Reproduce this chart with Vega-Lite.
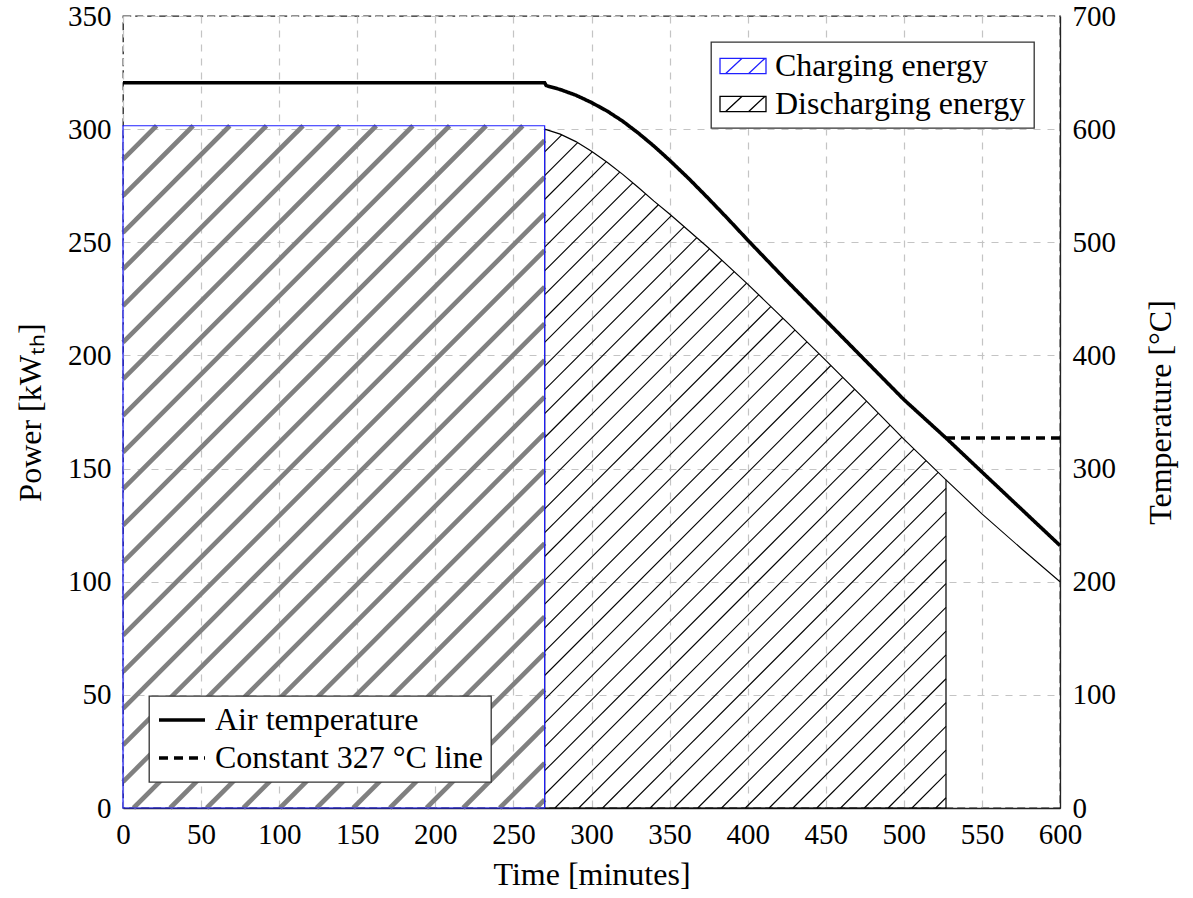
{
  "$schema": "https://vega.github.io/schema/vega-lite/v6.json",
  "width": 937,
  "height": 792,
  "autosize": {"type": "none"},
  "padding": {"left": 123, "top": 16, "right": 133, "bottom": 90},
  "background": "white",
  "config": {
    "font": "Liberation Serif",
    "view": {"stroke": "#222222", "strokeWidth": 1.3, "strokeDash": [8, 4]},
    "axis": {
      "labelFont": "Liberation Serif",
      "titleFont": "Liberation Serif",
      "labelFontSize": 29,
      "titleFontSize": 32,
      "titleFontWeight": "normal",
      "labelColor": "black",
      "titleColor": "black",
      "ticks": false,
      "gridColor": "#c4c4c4",
      "gridDash": [7, 7],
      "gridWidth": 1.2,
      "domainColor": "#222222",
      "domainWidth": 1.3,
      "labelFlush": false,
      "labelOverlap": false,
      "labelBound": false
    },
    "legend": {
      "labelFont": "Liberation Serif",
      "labelFontSize": 32,
      "labelColor": "black",
      "labelLimit": 500,
      "fillColor": "white",
      "strokeColor": "#333333",
      "strokeWidth": 1.3,
      "cornerRadius": 0,
      "padding": 8,
      "labelOffset": 8,
      "rowPadding": 6,
      "clipHeight": 32
    }
  },
  "datasets": {
    "hatchCharge": [
      {"t": 0, "P": 286.68, "t2": 21.5, "P2": 301.5},
      {"t": 0, "P": 270.5, "t2": 44.95, "P2": 301.5},
      {"t": 0, "P": 254.32, "t2": 68.4, "P2": 301.5},
      {"t": 0, "P": 238.13, "t2": 91.85, "P2": 301.5},
      {"t": 0, "P": 221.95, "t2": 115.3, "P2": 301.5},
      {"t": 0, "P": 205.76, "t2": 138.75, "P2": 301.5},
      {"t": 0, "P": 189.58, "t2": 162.2, "P2": 301.5},
      {"t": 0, "P": 173.4, "t2": 185.65, "P2": 301.5},
      {"t": 0, "P": 157.21, "t2": 209.1, "P2": 301.5},
      {"t": 0, "P": 141.03, "t2": 232.55, "P2": 301.5},
      {"t": 0, "P": 124.85, "t2": 256.0, "P2": 301.5},
      {"t": 0, "P": 108.66, "t2": 270, "P2": 295.0},
      {"t": 0, "P": 92.48, "t2": 270, "P2": 278.82},
      {"t": 0, "P": 76.3, "t2": 270, "P2": 262.63},
      {"t": 0, "P": 60.11, "t2": 270, "P2": 246.45},
      {"t": 0, "P": 43.93, "t2": 270, "P2": 230.27},
      {"t": 0, "P": 27.74, "t2": 270, "P2": 214.08},
      {"t": 0, "P": 11.56, "t2": 270, "P2": 197.9},
      {"t": 6.7, "P": 0, "t2": 270, "P2": 181.71},
      {"t": 30.15, "P": 0, "t2": 270, "P2": 165.53},
      {"t": 53.6, "P": 0, "t2": 270, "P2": 149.35},
      {"t": 77.05, "P": 0, "t2": 270, "P2": 133.16},
      {"t": 100.5, "P": 0, "t2": 270, "P2": 116.98},
      {"t": 123.95, "P": 0, "t2": 270, "P2": 100.8},
      {"t": 147.4, "P": 0, "t2": 270, "P2": 84.61},
      {"t": 170.85, "P": 0, "t2": 270, "P2": 68.43},
      {"t": 194.3, "P": 0, "t2": 270, "P2": 52.24},
      {"t": 217.75, "P": 0, "t2": 270, "P2": 36.06},
      {"t": 241.2, "P": 0, "t2": 270, "P2": 19.88},
      {"t": 264.65, "P": 0, "t2": 270, "P2": 3.69}
    ],
    "hatchDischarge": [
      {"t": 270, "P": 289.94, "t2": 280.94, "P2": 297.49},
      {"t": 270, "P": 279.42, "t2": 291.13, "P2": 294.01},
      {"t": 270, "P": 268.91, "t2": 300.5, "P2": 289.96},
      {"t": 270, "P": 258.39, "t2": 309.49, "P2": 285.64},
      {"t": 270, "P": 247.87, "t2": 318.07, "P2": 281.05},
      {"t": 270, "P": 237.36, "t2": 326.41, "P2": 276.28},
      {"t": 270, "P": 226.83, "t2": 334.62, "P2": 271.43},
      {"t": 270, "P": 216.32, "t2": 342.84, "P2": 266.59},
      {"t": 270, "P": 205.8, "t2": 351.16, "P2": 261.81},
      {"t": 270, "P": 195.28, "t2": 359.31, "P2": 256.92},
      {"t": 270, "P": 184.76, "t2": 367.46, "P2": 252.03},
      {"t": 270, "P": 174.25, "t2": 375.59, "P2": 247.12},
      {"t": 270, "P": 163.73, "t2": 383.5, "P2": 242.06},
      {"t": 270, "P": 153.21, "t2": 391.41, "P2": 237.0},
      {"t": 270, "P": 142.69, "t2": 399.32, "P2": 231.94},
      {"t": 270, "P": 132.17, "t2": 407.07, "P2": 226.78},
      {"t": 270, "P": 121.66, "t2": 414.82, "P2": 221.6},
      {"t": 270, "P": 111.14, "t2": 422.56, "P2": 216.43},
      {"t": 270, "P": 100.62, "t2": 430.26, "P2": 211.23},
      {"t": 270, "P": 90.1, "t2": 437.94, "P2": 206.01},
      {"t": 270, "P": 79.59, "t2": 445.61, "P2": 200.78},
      {"t": 270, "P": 69.07, "t2": 453.27, "P2": 195.55},
      {"t": 270, "P": 58.55, "t2": 460.9, "P2": 190.3},
      {"t": 270, "P": 48.03, "t2": 468.53, "P2": 185.05},
      {"t": 270, "P": 37.52, "t2": 476.15, "P2": 179.79},
      {"t": 270, "P": 27.0, "t2": 483.7, "P2": 174.48},
      {"t": 270, "P": 16.48, "t2": 491.24, "P2": 169.17},
      {"t": 270, "P": 5.96, "t2": 498.78, "P2": 163.86},
      {"t": 276.6, "P": 0, "t2": 506.5, "P2": 158.66},
      {"t": 291.84, "P": 0, "t2": 514.25, "P2": 153.49},
      {"t": 307.08, "P": 0, "t2": 522.0, "P2": 148.33},
      {"t": 322.32, "P": 0, "t2": 527, "P2": 141.26},
      {"t": 337.56, "P": 0, "t2": 527, "P2": 130.74},
      {"t": 352.8, "P": 0, "t2": 527, "P2": 120.22},
      {"t": 368.04, "P": 0, "t2": 527, "P2": 109.71},
      {"t": 383.28, "P": 0, "t2": 527, "P2": 99.19},
      {"t": 398.52, "P": 0, "t2": 527, "P2": 88.67},
      {"t": 413.76, "P": 0, "t2": 527, "P2": 78.15},
      {"t": 429.0, "P": 0, "t2": 527, "P2": 67.63},
      {"t": 444.24, "P": 0, "t2": 527, "P2": 57.12},
      {"t": 459.48, "P": 0, "t2": 527, "P2": 46.6},
      {"t": 474.72, "P": 0, "t2": 527, "P2": 36.08},
      {"t": 489.96, "P": 0, "t2": 527, "P2": 25.56},
      {"t": 505.2, "P": 0, "t2": 527, "P2": 15.05},
      {"t": 520.44, "P": 0, "t2": 527, "P2": 4.53}
    ],
    "charging": [
      {"t": 0, "t2": 270, "P": 0, "P2": 301.5, "energy": "Charging energy"}
    ],
    "discharging": [
      {"t": 270, "P": 300.0, "energy": "Discharging energy"},
      {"t": 280, "P": 297.8, "energy": "Discharging energy"},
      {"t": 290, "P": 294.5, "energy": "Discharging energy"},
      {"t": 300, "P": 290.2, "energy": "Discharging energy"},
      {"t": 310, "P": 285.4, "energy": "Discharging energy"},
      {"t": 320, "P": 280.0, "energy": "Discharging energy"},
      {"t": 330, "P": 274.2, "energy": "Discharging energy"},
      {"t": 340, "P": 268.2, "energy": "Discharging energy"},
      {"t": 350, "P": 262.5, "energy": "Discharging energy"},
      {"t": 375, "P": 247.5, "energy": "Discharging energy"},
      {"t": 400, "P": 231.5, "energy": "Discharging energy"},
      {"t": 425, "P": 214.8, "energy": "Discharging energy"},
      {"t": 450, "P": 197.8, "energy": "Discharging energy"},
      {"t": 475, "P": 180.6, "energy": "Discharging energy"},
      {"t": 500, "P": 163.0, "energy": "Discharging energy"},
      {"t": 527, "P": 145.0, "energy": "Discharging energy"}
    ],
    "powerTail": [
      {"t": 527, "P": 145.0},
      {"t": 550, "P": 130.0},
      {"t": 575, "P": 114.8},
      {"t": 600, "P": 100.0}
    ],
    "temperature": [
      {"t": 0, "T": 641, "line": "Air temperature"},
      {"t": 270, "T": 641, "line": "Air temperature"},
      {"t": 271, "T": 638.5, "line": "Air temperature"},
      {"t": 280, "T": 635, "line": "Air temperature"},
      {"t": 290, "T": 630, "line": "Air temperature"},
      {"t": 300, "T": 623.5, "line": "Air temperature"},
      {"t": 310, "T": 616, "line": "Air temperature"},
      {"t": 320, "T": 607, "line": "Air temperature"},
      {"t": 330, "T": 596.5, "line": "Air temperature"},
      {"t": 340, "T": 585, "line": "Air temperature"},
      {"t": 350, "T": 572.5, "line": "Air temperature"},
      {"t": 362.5, "T": 556, "line": "Air temperature"},
      {"t": 375, "T": 538.5, "line": "Air temperature"},
      {"t": 387.5, "T": 520.5, "line": "Air temperature"},
      {"t": 400, "T": 502, "line": "Air temperature"},
      {"t": 425, "T": 466, "line": "Air temperature"},
      {"t": 450, "T": 431, "line": "Air temperature"},
      {"t": 475, "T": 396, "line": "Air temperature"},
      {"t": 500, "T": 361, "line": "Air temperature"},
      {"t": 527, "T": 327, "line": "Air temperature"},
      {"t": 550, "T": 297, "line": "Air temperature"},
      {"t": 575, "T": 264.5, "line": "Air temperature"},
      {"t": 600, "T": 232, "line": "Air temperature"},
      {"t": 527, "T": 327, "line": "Constant 327 °C line"},
      {"t": 600, "T": 327, "line": "Constant 327 °C line"}
    ]
  },
  "encoding": {
    "x": {
      "field": "t",
      "type": "quantitative",
      "scale": {"domain": [0, 600], "nice": false, "zero": false},
      "axis": {
        "title": "Time [minutes]",
        "values": [0, 50, 100, 150, 200, 250, 300, 350, 400, 450, 500, 550, 600],
        "labelPadding": 12,
        "titlePadding": 10,
        "grid": true,
        "domain": true
      }
    }
  },
  "layer": [
    {
      "encoding": {
        "y": {
          "field": "P",
          "type": "quantitative",
          "scale": {"domain": [0, 350], "nice": false, "zero": false},
          "axis": {
            "title": "Power [kWₜₕ]",
            "values": [0, 50, 100, 150, 200, 250, 300, 350],
            "labelPadding": 12,
            "titlePadding": 20,
            "grid": true,
            "domain": false
          }
        }
      },
      "layer": [
        {
          "data": {"name": "hatchCharge"},
          "mark": {"type": "rule", "stroke": "#808080", "strokeWidth": 4.6, "strokeCap": "butt"},
          "encoding": {"x2": {"field": "t2"}, "y2": {"field": "P2"}}
        },
        {
          "data": {"name": "hatchDischarge"},
          "mark": {"type": "rule", "stroke": "black", "strokeWidth": 1.1, "strokeCap": "butt"},
          "encoding": {"x2": {"field": "t2"}, "y2": {"field": "P2"}}
        },
        {
          "data": {"name": "discharging"},
          "mark": {"type": "area", "interpolate": "linear", "fill": "transparent", "strokeWidth": 1.2},
          "encoding": {
            "stroke": {
              "field": "energy",
              "type": "nominal",
              "scale": {"domain": ["Charging energy", "Discharging energy"], "range": ["#2020ff", "black"]},
              "legend": {
                "orient": "top-right",
                "offset": 26,
                "title": null,
                "symbolType": "M-1,-0.33H1V0.33H-1Z M-0.75,0.33L-0.05,-0.33 M0.25,0.33L0.95,-0.33",
                "symbolSize": 2116,
                "symbolStrokeWidth": 1.3,
                "symbolFillColor": "white",
                "symbolOpacity": 1,
                "encode": {"symbols": {"update": {"fill": {"value": "white"}, "fillOpacity": {"value": 1}}}}
              }
            }
          }
        },
        {
          "data": {"name": "charging"},
          "mark": {"type": "rect", "fill": "transparent", "strokeWidth": 1.2},
          "encoding": {
            "x2": {"field": "t2"},
            "y2": {"field": "P2"},
            "stroke": {
              "field": "energy",
              "type": "nominal",
              "scale": {"domain": ["Charging energy", "Discharging energy"], "range": ["#2020ff", "black"]},
              "legend": {
                "orient": "top-right",
                "offset": 26,
                "title": null,
                "symbolType": "M-1,-0.33H1V0.33H-1Z M-0.75,0.33L-0.05,-0.33 M0.25,0.33L0.95,-0.33",
                "symbolSize": 2116,
                "symbolStrokeWidth": 1.3,
                "symbolFillColor": "white",
                "symbolOpacity": 1,
                "encode": {"symbols": {"update": {"fill": {"value": "white"}, "fillOpacity": {"value": 1}}}}
              }
            }
          }
        },
        {
          "data": {"name": "powerTail"},
          "mark": {"type": "line", "stroke": "black", "strokeWidth": 1.1},
          "encoding": {}
        }
      ]
    },
    {
      "data": {"name": "temperature"},
      "encoding": {
        "y": {
          "field": "T",
          "type": "quantitative",
          "scale": {"domain": [0, 700], "nice": false, "zero": false},
          "axis": {
            "orient": "right",
            "title": "Temperature [°C]",
            "values": [0, 100, 200, 300, 400, 500, 600, 700],
            "labelPadding": 12,
            "titlePadding": 62,
            "titleAngle": 270,
            "grid": false,
            "domain": true
          }
        }
      },
      "layer": [
        {
          "mark": {"type": "line", "stroke": "black", "strokeWidth": 3.6, "strokeCap": "butt"},
          "encoding": {
            "strokeDash": {
              "field": "line",
              "type": "nominal",
              "scale": {"domain": ["Air temperature", "Constant 327 °C line"], "range": [[1, 0], [9, 6]]},
              "legend": {
                "orient": "bottom-left",
                "offset": 26,
                "title": null,
                "symbolType": "stroke",
                "symbolSize": 2116,
                "symbolStrokeWidth": 3.6,
                "symbolStrokeColor": "black"
              }
            }
          }
        }
      ]
    }
  ],
  "resolve": {"scale": {"y": "independent"}, "axis": {"y": "independent"}}
}
